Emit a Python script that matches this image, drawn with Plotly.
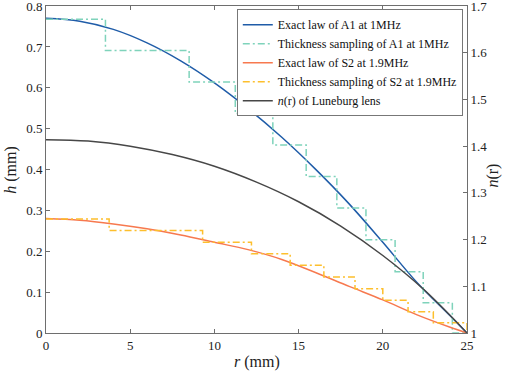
import plotly.graph_objects as go

# Exact law A1 at 1 MHz (h in mm vs r in mm)
r_exact_a1 = [0, 2, 4, 6, 8, 10, 12, 14, 16, 18, 20, 22, 24, 25]
h_exact_a1 = [0.770, 0.763, 0.743, 0.710, 0.666, 0.612, 0.549, 0.479, 0.401, 0.316, 0.222, 0.125, 0.042, 0.0]

# Thickness sampling of A1 (step edges)
r_step_a1 = [0, 3.53, 8.5, 11.24, 13.47, 15.45, 17.27, 19.0, 20.73, 22.4, 24.13, 25]
h_step_a1 = [0.768, 0.691, 0.614, 0.537, 0.460, 0.383, 0.306, 0.228, 0.150, 0.074, 0.0, 0.0]

# Exact law S2 at 1.9 MHz
r_exact_s2 = [0, 2, 4, 6, 8, 10, 12, 14, 16, 18, 20, 22, 24, 25]
h_exact_s2 = [0.280, 0.276, 0.267, 0.255, 0.240, 0.222, 0.204, 0.180, 0.148, 0.114, 0.081, 0.045, 0.014, 0.0]

# Thickness sampling of S2
r_step_s2 = [0, 3.75, 9.3, 12.2, 14.5, 16.5, 18.35, 20.0, 21.5, 23.0, 25]
h_step_s2 = [0.279, 0.251, 0.222, 0.194, 0.166, 0.137, 0.108, 0.080, 0.052, 0.025, 0.0]

# n(r) of Luneburg lens (right axis)
r_lune = [0, 2.5, 5, 7.5, 10, 12.5, 15, 17.5, 20, 22.5, 25]
n_lune = [1.414, 1.411, 1.400, 1.382, 1.357, 1.323, 1.281, 1.229, 1.166, 1.091, 1.0]

x_ticks = [0, 5, 10, 15, 20, 25]
y_ticks = [0, 0.1, 0.2, 0.3, 0.4, 0.5, 0.6, 0.7, 0.8]
y2_ticks = [1, 1.1, 1.2, 1.3, 1.4, 1.5, 1.6, 1.7]

FONT = "Liberation Serif, Times New Roman, serif"
AX = "#6e6e6e"
TXT = "#222"
DASHDOT = "7px,3px,2px,3px"

fig = go.Figure()
fig.add_trace(go.Scatter(x=r_exact_a1, y=h_exact_a1, mode="lines", line=dict(color="#1f5ca8", width=1.5, shape="spline"),
                         name="Exact law of A1 at 1MHz"))
fig.add_trace(go.Scatter(x=r_step_a1, y=h_step_a1, mode="lines", line=dict(color="#7fd3bb", width=1.5, shape="hv", dash=DASHDOT),
                         name="Thickness sampling of A1 at 1MHz"))
fig.add_trace(go.Scatter(x=r_exact_s2, y=h_exact_s2, mode="lines", line=dict(color="#f7794f", width=1.5, shape="spline"),
                         name="Exact law of S2 at 1.9MHz"))
fig.add_trace(go.Scatter(x=r_step_s2, y=h_step_s2, mode="lines", line=dict(color="#fdbf2d", width=1.5, shape="hv", dash=DASHDOT),
                         name="Thickness sampling of S2 at 1.9MHz"))
fig.add_trace(go.Scatter(x=r_lune, y=n_lune, mode="lines", line=dict(color="#474747", width=1.5, shape="spline"),
                         name="<i>n</i>(r) of Luneburg lens", yaxis="y2"))

fig.update_layout(
    width=505, height=374,
    margin=dict(l=46, r=38, t=6, b=41),
    paper_bgcolor="white", plot_bgcolor="white",
    font=dict(family=FONT, size=13, color=TXT),
    showlegend=True,
    legend=dict(x=0.99, y=0.99, xanchor="right", yanchor="top",
                bgcolor="white", bordercolor="#777", borderwidth=1,
                font=dict(family=FONT, size=12, color="#111"),
                tracegroupgap=0, itemwidth=30),
    xaxis=dict(range=[0, 25.0001], tickvals=x_ticks, ticks="inside", ticklen=4, tickcolor=AX,
               showline=True, linecolor=AX, linewidth=1, mirror="ticks", showgrid=False, zeroline=False,
               ticklabeloverflow="allow", automargin=False,
               tickfont=dict(family=FONT, size=13, color=TXT)),
    yaxis=dict(range=[0, 0.8002], tickvals=y_ticks, tickformat=".1~f", ticks="inside", ticklen=4, tickcolor=AX,
               showline=True, linecolor=AX, linewidth=1, mirror=False, showgrid=False, zeroline=False,
               ticklabeloverflow="allow", automargin=False,
               tickfont=dict(family=FONT, size=13, color=TXT)),
    yaxis2=dict(range=[1, 1.7002], tickvals=y2_ticks, tickformat=".1~f", overlaying="y", side="right",
                ticks="inside", ticklen=4, tickcolor=AX,
                showline=True, linecolor=AX, linewidth=1, showgrid=False, zeroline=False,
                ticklabeloverflow="allow", automargin=False,
                tickfont=dict(family=FONT, size=13, color=TXT)),
    annotations=[
        dict(text="<i>r</i> (mm)", xref="paper", yref="paper", x=0.5, y=-0.09, xanchor="center", yanchor="middle",
             showarrow=False, font=dict(family=FONT, size=16, color=TXT)),
        dict(text="<i>h</i> (mm)", xref="paper", yref="paper", x=-0.085, y=0.5, xanchor="center", yanchor="middle",
             textangle=-90, showarrow=False, font=dict(family=FONT, size=16, color=TXT)),
        dict(text="<i>n</i>(r)", xref="paper", yref="paper", x=1.063, y=0.48, xanchor="center", yanchor="middle",
             textangle=-90, showarrow=False, font=dict(family=FONT, size=16, color=TXT)),
    ],
)

fig.write_html("out.html", config={"displayModeBar": False},
               post_script="document.body.style.margin='0';document.body.style.padding='0';")
